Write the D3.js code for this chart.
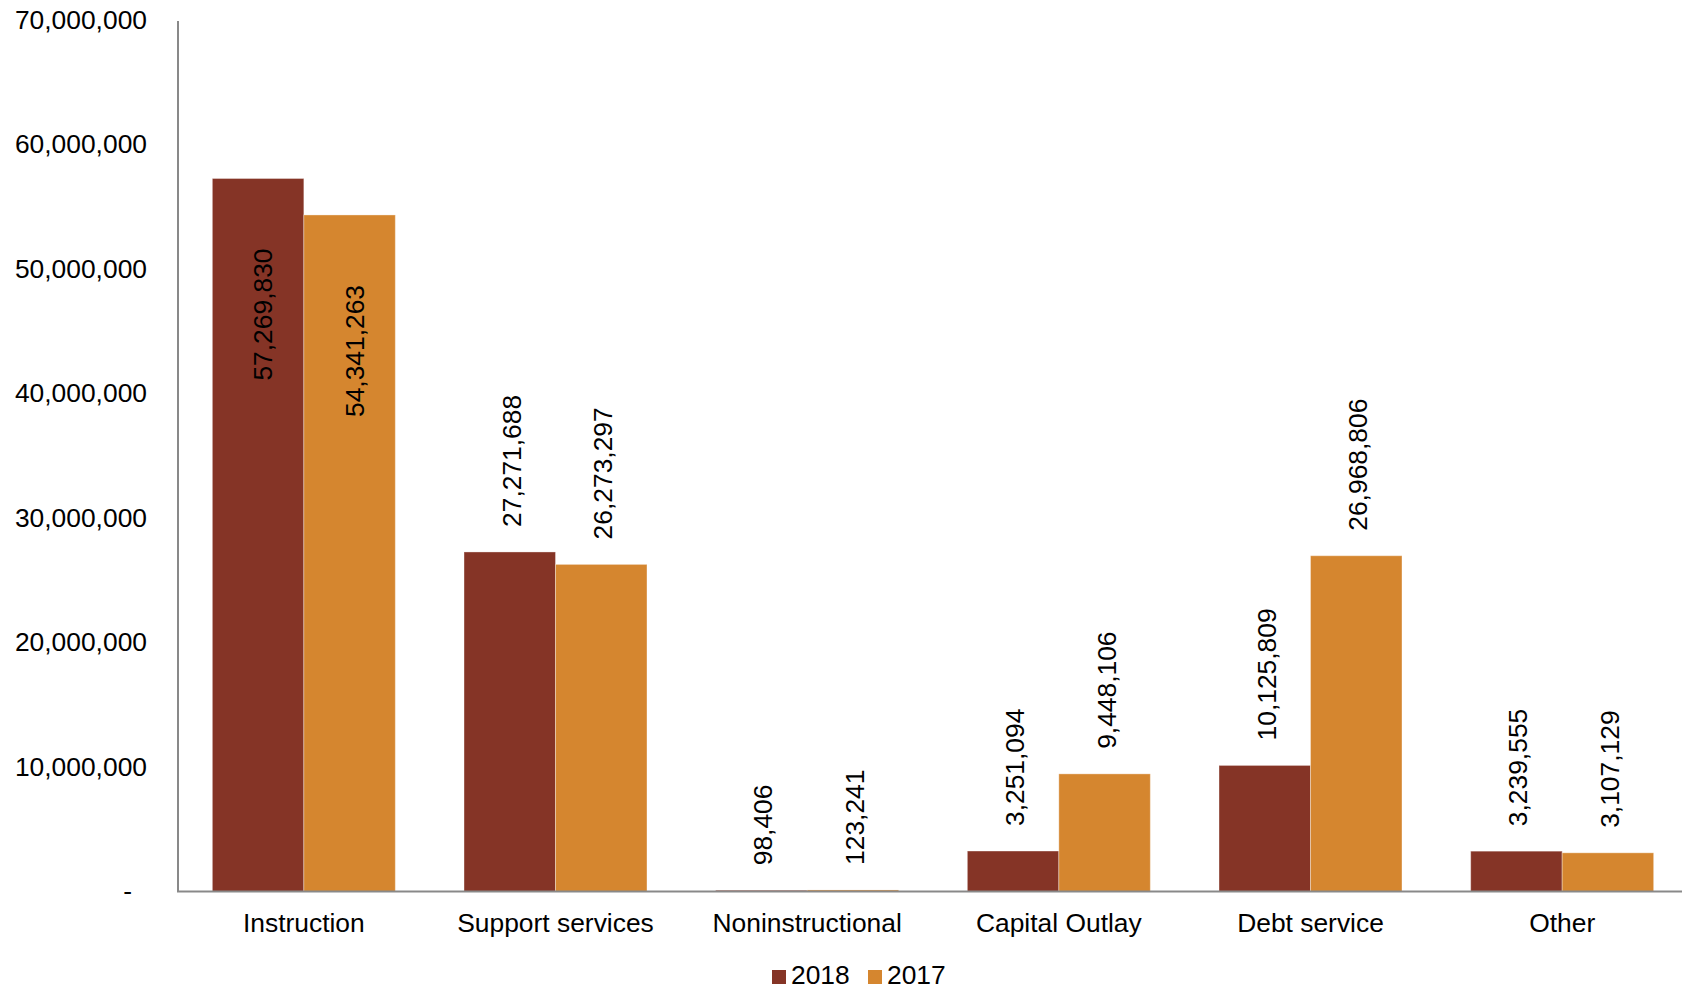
<!DOCTYPE html>
<html><head><meta charset="utf-8">
<script src="https://cdn.jsdelivr.net/npm/d3@7"></script>
<style>
html,body{margin:0;padding:0;background:#fff;}
svg{display:block;font-family:"Liberation Sans",Arial,sans-serif;}
</style></head>
<body>
<svg id="chart" width="1682" height="990"></svg>
<script>
const categories = ["Instruction","Support services","Noninstructional","Capital Outlay","Debt service","Other"];
const seriesNames = ["2018","2017"];
const values2018 = [57269830, 27271688, 98406, 3251094, 10125809, 3239555];
const values2017 = [54341263, 26273297, 123241, 9448106, 26968806, 3107129];
const yTicks = [0,10000000,20000000,30000000,40000000,50000000,60000000,70000000];
const colors = {"2018":"#853426","2017":"#D5862F"};

(function(){
const svg = d3.select("#chart");
const mLeft = 178, mRight = 1688, mTop = 20, mBottom = 891.5;
const fs = 26.4;

const x = d3.scaleBand().domain(categories).range([mLeft, mRight]).paddingInner(0.273).paddingOuter(0.1365);
const xs = d3.scaleBand().domain(seriesNames).range([0, x.bandwidth()]);
const y = d3.scaleLinear().domain([0, 70000000]).range([mBottom, mTop]);

const fmt = d3.format(",");

// y axis labels
const yAxis = d3.axisLeft(y).tickValues(yTicks).tickSize(0).tickPadding(0)
  .tickFormat(d => d === 0 ? "-" : fmt(d));
const yg = svg.append("g").attr("transform", `translate(${mLeft - 31},0)`).call(yAxis);
yg.select(".domain").remove();
yg.selectAll("text").attr("font-size", fs).attr("fill", "#000")
  .attr("font-family", '"Liberation Sans",Arial,sans-serif')
  .attr("dx", d => d === 0 ? -15 : 0);

// data
const data = categories.map((c, i) => ({cat: c, vals: [
  {s: "2018", v: values2018[i]}, {s: "2017", v: values2017[i]}]}));

const groups = svg.append("g").selectAll("g").data(data).join("g")
  .attr("transform", d => `translate(${x(d.cat)},0)`);

groups.selectAll("rect").data(d => d.vals).join("rect")
  .attr("x", d => xs(d.s))
  .attr("width", xs.bandwidth())
  .attr("y", d => y(d.v))
  .attr("height", d => mBottom - y(d.v))
  .attr("fill", d => colors[d.s])
  .attr("stroke", "rgba(255,255,255,0.35)")
  .attr("stroke-width", 1);

// data labels (rotated)
groups.selectAll("text.lbl").data(d => d.vals).join("text")
  .attr("class", "lbl")
  .attr("font-size", fs)
  .attr("fill", "#000")
  .attr("transform", d => {
    const cx = xs(d.s) + xs.bandwidth() / 2;
    const inside = d.v > 50000000;
    if (inside) {
      const topY = y(d.v) + 70;
      return `translate(${cx + 14},${topY}) rotate(-90)`;
    }
    const botY = y(d.v) - 25;
    return `translate(${cx + 11},${botY}) rotate(-90)`;
  })
  .attr("text-anchor", d => d.v > 50000000 ? "end" : "start")
  .text(d => fmt(d.v));

// axes lines
svg.append("line").attr("x1", mLeft).attr("x2", mLeft).attr("y1", mTop + 1).attr("y2", mBottom)
  .attr("stroke", "#898989").attr("stroke-width", 2);
svg.append("line").attr("x1", mLeft - 1).attr("x2", 1682).attr("y1", mBottom).attr("y2", mBottom)
  .attr("stroke", "#898989").attr("stroke-width", 2);

// x labels
const xAxis = d3.axisBottom(x).tickSize(0).tickPadding(0);
const xg = svg.append("g").attr("transform", `translate(0,${mBottom})`).call(xAxis);
xg.select(".domain").remove();
xg.selectAll("text").attr("font-size", fs).attr("fill", "#000")
  .attr("font-family", '"Liberation Sans",Arial,sans-serif')
  .attr("dy", null).attr("y", 40);

// legend
const legend = svg.append("g");
const legX = [772, 868];
seriesNames.forEach((s, i) => {
  legend.append("rect").attr("x", legX[i]).attr("y", 970).attr("width", 14).attr("height", 14).attr("fill", colors[s]);
  legend.append("text").attr("x", legX[i] + 19).attr("y", 984).attr("font-size", fs).attr("fill", "#000").text(s);
});
})();
</script>
</body></html>
